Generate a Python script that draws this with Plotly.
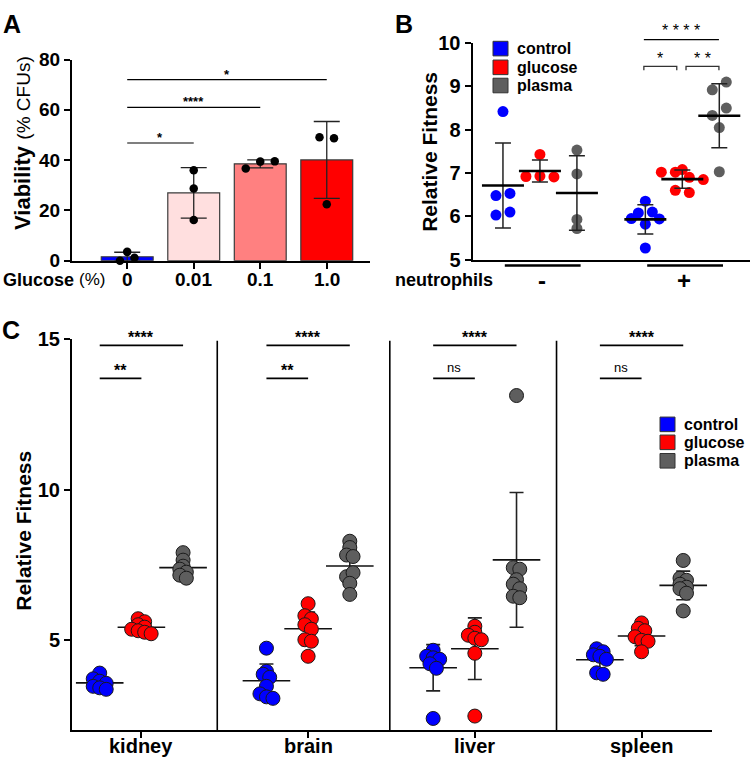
import plotly.graph_objects as go
import numpy as np

W, H = 750, 771
FONT = "Liberation Sans, Arial, sans-serif"

# ---------------- Panel A data ----------------
glucose_labels = ["0", "0.01", "0.1", "1.0"]
viability_0 = [3.5, 0.0, 1.2]
viability_001 = [36.0, 28.7, 16.2]
viability_01 = [36.7, 39.4, 39.5]
viability_1 = [49.1, 48.7, 22.4]
a_bar_colors = ["#0000FF", "#FFDFDF", "#FF8080", "#FF0000"]
a_sig_pairs = [(0, 1), (0, 2), (0, 3)]
a_sig_labels = ["*", "****", "*"]
a_sig_heights = [46.8, 61.0, 72.0]

# ---------------- Panel B data ----------------
b_conditions = ["control", "glucose", "plasma"]
b_control_minus = [8.42, 6.48, 6.53, 6.03, 6.10]
b_glucose_minus = [7.43, 6.92, 6.93, 6.91]
b_plasma_minus = [7.53, 6.98, 5.72, 5.93]
b_control_plus = [6.35, 6.08, 6.10, 5.95, 5.82, 5.94, 5.27]
b_glucose_plus = [7.08, 7.02, 7.02, 6.90, 6.85, 6.60, 6.55]
b_plasma_plus = [8.92, 9.10, 8.33, 8.50, 8.05, 7.03]
neutrophil_labels = ["-", "+"]
b_sig_labels = ["*", "* *", "* * * *"]

# ---------------- Panel C data ----------------
organs = ["kidney", "brain", "liver", "spleen"]
kidney_control = [3.89, 3.70, 3.62, 3.55, 3.45, 3.40, 3.35]
kidney_glucose = [5.70, 5.60, 5.50, 5.42, 5.35, 5.30, 5.25, 5.20]
kidney_plasma = [7.90, 7.65, 7.45, 7.35, 7.25, 7.15, 7.05]
brain_control = [4.72, 3.95, 3.85, 3.75, 3.45, 3.20, 3.10, 3.05]
brain_glucose = [6.20, 5.80, 5.70, 5.50, 5.35, 5.00, 4.95, 4.45]
brain_plasma = [8.28, 8.07, 7.82, 7.77, 7.10, 7.23, 6.88, 6.51]
liver_control = [4.65, 4.45, 4.40, 4.35, 4.20, 4.05, 2.38]
liver_glucose = [5.45, 5.25, 5.15, 5.05, 5.00, 4.55, 2.46]
liver_plasma = [13.13, 7.40, 7.35, 7.00, 6.85, 6.70, 6.45, 6.40]
spleen_control = [4.70, 4.60, 4.50, 4.45, 4.35, 3.90, 3.85]
spleen_glucose = [5.56, 5.38, 5.30, 5.10, 4.98, 4.95, 4.60]
spleen_plasma = [7.64, 7.05, 6.98, 6.85, 6.75, 6.70, 6.55, 5.96]
c_sig_top = ["****", "****", "****", "****"]
c_sig_low = ["**", "**", "ns", "ns"]

COND_COLORS = {"control": "#0000FF", "glucose": "#FF0000", "plasma": "#5E5E5E"}

# ---------------- geometry (pixel boxes of the three plot areas) ----------------
A_BOX = dict(x0=72, x1=370, y0=50, y1=257, xr=[-0.83, 3.65], yr=[0, 80])
B_BOX = dict(x0=473, x1=750, y0=33, y1=256, xr=[-0.81, 6.68], yr=[5, 10])
C_BOX = dict(x0=72, x1=712, y0=338, y1=740, xr=[-0.665, 14.69], yr=[2, 15])


def px(x):
    return x / W


def py(y):
    return 1 - y / H


def ppu(box):
    return ((box["x1"] - box["x0"]) / (box["xr"][1] - box["xr"][0]),
            (box["y1"] - box["y0"]) / (box["yr"][1] - box["yr"][0]))


def swarm(values, center, box, row_px, spacing_px):
    ppx, ppy = ppu(box)
    order = sorted(range(len(values)), key=lambda i: values[i])
    rows, cur = [], []
    for i in order:
        if cur and (values[i] - values[cur[0]]) * ppy >= row_px:
            rows.append(cur)
            cur = []
        cur.append(i)
    if cur:
        rows.append(cur)
    xs = [center] * len(values)
    for row in rows:
        row = sorted(row)
        n = len(row)
        for k, i in enumerate(row):
            xs[i] = center + (k - (n - 1) / 2) * spacing_px / ppx
    return xs


fig = go.Figure()

# ================= Panel A =================
a_sets = [viability_0, viability_001, viability_01, viability_1]
a_means = [float(np.mean(v)) for v in a_sets]
a_sds = [float(np.std(v, ddof=1)) for v in a_sets]
a_pos = list(range(len(glucose_labels)))
fig.add_trace(go.Bar(
    x=a_pos, y=a_means, width=0.78, xaxis="x", yaxis="y",
    marker=dict(color=a_bar_colors, line=dict(color="#3a3a3a", width=1.2)),
    error_y=dict(type="data", array=a_sds, color="#222222", thickness=1.3, width=13),
))
ax_pts, ay_pts = [], []
for i, vals in enumerate(a_sets):
    ax_pts += swarm(vals, a_pos[i], A_BOX, 8, 14.5)
    ay_pts += vals
fig.add_trace(go.Scatter(
    x=ax_pts, y=ay_pts, mode="markers", xaxis="x", yaxis="y", cliponaxis=False,
    marker=dict(color="black", size=8.5, line=dict(width=0)),
))

shapes = []
annotations = []
for (i, j), lab, h in zip(a_sig_pairs, a_sig_labels, a_sig_heights):
    shapes.append(dict(type="line", xref="x", yref="y", x0=a_pos[i], x1=a_pos[j], y0=h, y1=h,
                       line=dict(color="black", width=1.2)))
    annotations.append(dict(xref="x", yref="y", x=(a_pos[i] + a_pos[j]) / 2, y=h, text=lab,
                            showarrow=False, yanchor="bottom", yshift=-4,
                            font=dict(size=13, family=FONT, color="black", weight="bold")))
# x tick labels for panel A
for p, lab in zip(a_pos, glucose_labels):
    annotations.append(dict(xref="x", yref="paper", x=p, y=py(276), text=lab, showarrow=False,
                            xanchor="center", yanchor="middle",
                            font=dict(size=19, family=FONT, color="black", weight="bold")))

# ================= Panel B =================
b_group_x = [0.0, 3.85]
b_sets = [[b_control_minus, b_glucose_minus, b_plasma_minus],
          [b_control_plus, b_glucose_plus, b_plasma_plus]]
b_stat_x, b_stat_m, b_stat_sd = [], [], []
for g, group in enumerate(b_sets):
    for c, vals in enumerate(group):
        xc = b_group_x[g] + c
        xs = swarm(vals, xc, B_BOX, 9, 14)
        fig.add_trace(go.Scatter(
            x=xs, y=vals, mode="markers", xaxis="x2", yaxis="y2", cliponaxis=False,
            marker=dict(color=COND_COLORS[b_conditions[c]], size=11, line=dict(width=0)),
        ))
        b_stat_x.append(xc)
        b_stat_m.append(float(np.mean(vals)))
        b_stat_sd.append(float(np.std(vals, ddof=1)))
fig.add_trace(go.Scatter(
    x=b_stat_x, y=b_stat_m, mode="markers", xaxis="x2", yaxis="y2", cliponaxis=False,
    marker=dict(symbol="line-ew", size=30, line=dict(color="black", width=2.6)),
    error_y=dict(type="data", array=b_stat_sd, color="#222222", thickness=1.5, width=8),
))

# brackets (+ group)
gx = b_group_x[1]
br_y, br_tick = 9.46, 0.09
brackets = [(gx - 0.04, gx + 0.85), (gx + 1.1, gx + 1.99)]
for (x1, x2), lab in zip(brackets, b_sig_labels[:2]):
    shapes.append(dict(type="path", xref="x2", yref="y2",
                       path=f"M {x1},{br_y - br_tick} L {x1},{br_y} L {x2},{br_y} L {x2},{br_y - br_tick}",
                       line=dict(color="#333333", width=1.3)))
    annotations.append(dict(xref="x2", yref="y2", x=(x1 + x2) / 2, y=br_y, text=lab, showarrow=False,
                            yanchor="bottom", yshift=-3,
                            font=dict(size=16, family=FONT, color="black")))
top_frac = 1.016
shapes.append(dict(type="line", xref="x2", yref="y2 domain", x0=gx - 0.04, x1=gx + 1.99,
                   y0=top_frac, y1=top_frac, line=dict(color="black", width=1.3)))
annotations.append(dict(xref="x2", yref="y2 domain", x=gx + 0.975, y=top_frac, text=b_sig_labels[2],
                        showarrow=False, yanchor="bottom", yshift=-1,
                        font=dict(size=16, family=FONT, color="black")))
# neutrophil underlines and labels
for g, lab in enumerate(neutrophil_labels):
    shapes.append(dict(type="line", xref="x2", yref="y2 domain", x0=b_group_x[g] + 0.05,
                       x1=b_group_x[g] + 2.1, y0=-0.027, y1=-0.027,
                       line=dict(color="black", width=2.5)))
    annotations.append(dict(xref="x2", yref="y2 domain", x=b_group_x[g] + 1.05, y=-0.094, text=lab,
                            showarrow=False, yanchor="middle",
                            font=dict(size=24, family=FONT, color="black", weight="bold")))
annotations.append(dict(xref="paper", yref="paper", x=px(444), y=py(277), text="neutrophils",
                        showarrow=False, xanchor="center", yanchor="middle",
                        font=dict(size=18, family=FONT, color="black", weight="bold")))

# ================= Panel C =================
c_sets = [[kidney_control, kidney_glucose, kidney_plasma],
          [brain_control, brain_glucose, brain_plasma],
          [liver_control, liver_glucose, liver_plasma],
          [spleen_control, spleen_glucose, spleen_plasma]]
c_stat_x, c_stat_m, c_stat_sd = [], [], []
c_pts = {c: ([], []) for c in b_conditions}
for g, group in enumerate(c_sets):
    for c, vals in enumerate(group):
        xc = 4 * g + c
        xs = swarm(vals, xc, C_BOX, 5, 6.5)
        c_pts[b_conditions[c]][0].extend(xs)
        c_pts[b_conditions[c]][1].extend(vals)
        c_stat_x.append(xc)
        c_stat_m.append(float(np.mean(vals)))
        c_stat_sd.append(float(np.std(vals, ddof=1)))
fig.add_trace(go.Scatter(
    x=c_stat_x, y=c_stat_m, mode="markers", xaxis="x3", yaxis="y3", cliponaxis=False,
    marker=dict(symbol="line-ew", size=34, line=dict(color="#111111", width=1.6)),
    error_y=dict(type="data", array=c_stat_sd, color="#222222", thickness=1.6, width=7),
))
for c in b_conditions:
    fig.add_trace(go.Scatter(
        x=c_pts[c][0], y=c_pts[c][1], mode="markers", xaxis="x3", yaxis="y3", cliponaxis=False,
        marker=dict(color=COND_COLORS[c], size=14, line=dict(color="#1a1a1a", width=1)),
    ))

for g in range(len(organs)):
    base = 4 * g
    for (x1, x2, yv, lab) in [(base, base + 2, 14.8, c_sig_top[g]), (base, base + 1, 13.7, c_sig_low[g])]:
        is_ns = lab == "ns"
        shapes.append(dict(type="line", xref="x3", yref="y3", x0=x1, x1=x2, y0=yv, y1=yv,
                           line=dict(color="black", width=1.6)))
        annotations.append(dict(xref="x3", yref="y3", x=(x1 + x2) / 2, y=yv, text=lab,
                                showarrow=False, yanchor="bottom", yshift=1 if is_ns else -3,
                                font=dict(size=13 if is_ns else 16, family=FONT, color="black",
                                          weight="normal" if is_ns else "bold")))
    # category label
    annotations.append(dict(xref="x3", yref="paper", x=base + 1, y=py(757), text=organs[g],
                            showarrow=False, xanchor="center", yanchor="middle",
                            font=dict(size=20, family=FONT, color="black", weight="bold")))
for xd in [2.82, 6.96, 10.96]:
    shapes.append(dict(type="line", xref="x3", yref="y3", x0=xd, x1=xd, y0=C_BOX["yr"][0], y1=14.95,
                       line=dict(color="black", width=1.6)))


# ================= Legends =================
def legend(x_sq, y_rows, x_text):
    for c, yr in zip(b_conditions, y_rows):
        shapes.append(dict(type="rect", xref="paper", yref="paper",
                           x0=px(x_sq - 7.5), x1=px(x_sq + 7.5), y0=py(yr + 7.5), y1=py(yr - 7.5),
                           fillcolor=COND_COLORS[c], line=dict(color="#333333", width=1)))
        annotations.append(dict(xref="paper", yref="paper", x=px(x_text), y=py(yr), text=c,
                                showarrow=False, xanchor="left", yanchor="middle",
                                font=dict(size=16, family=FONT, color="black", weight="bold")))


legend(500.5, [38.7, 58, 76.7], 515)
legend(667.5, [425.5, 444, 463], 682)

# ================= Titles / panel letters =================
annotations += [
    dict(xref="paper", yref="paper", x=px(12), y=py(13), text="<b>A</b>", showarrow=False,
         xanchor="center", yanchor="middle", font=dict(size=25, family=FONT, color="black")),
    dict(xref="paper", yref="paper", x=px(404), y=py(13), text="<b>B</b>", showarrow=False,
         xanchor="center", yanchor="middle", font=dict(size=25, family=FONT, color="black")),
    dict(xref="paper", yref="paper", x=px(11), y=py(328), text="<b>C</b>", showarrow=False,
         xanchor="center", yanchor="middle", font=dict(size=25, family=FONT, color="black")),
    # "Viability (% CFUs)" as two pieces (bold word + regular unit)
    dict(xref="paper", yref="paper", x=px(23), y=py(228), textangle=-90, showarrow=False,
         text="<b>Viability</b>", xanchor="center", yanchor="bottom",
         font=dict(size=22, family=FONT, color="black")),
    dict(xref="paper", yref="paper", x=px(24), y=py(135), textangle=-90, showarrow=False,
         text="(% CFUs)", xanchor="center", yanchor="bottom",
         font=dict(size=19, family=FONT, color="black")),
    # "Glucose (%)"
    dict(xref="paper", yref="paper", x=px(1), y=py(277), showarrow=False,
         text="<b>Glucose</b>", xanchor="left", yanchor="middle",
         font=dict(size=18, family=FONT, color="black")),
    dict(xref="paper", yref="paper", x=px(77), y=py(276), showarrow=False,
         text="(%)", xanchor="left", yanchor="middle",
         font=dict(size=17, family=FONT, color="black")),
    dict(xref="paper", yref="paper", x=px(430), y=py(145), textangle=-90, showarrow=False,
         text="<b>Relative Fitness</b>", xanchor="center", yanchor="middle",
         font=dict(size=21, family=FONT, color="black")),
    dict(xref="paper", yref="paper", x=px(24), y=py(535), textangle=-90, showarrow=False,
         text="<b>Relative Fitness</b>", xanchor="center", yanchor="middle",
         font=dict(size=21, family=FONT, color="black")),
]

axis_common = dict(showline=True, linecolor="black", showgrid=False, zeroline=False,
                   ticks="outside", tickcolor="black", tickwidth=2, ticklen=6)


def dom_x(box):
    return [px(box["x0"]), px(box["x1"])]


def dom_y(box):
    return [py(box["y1"]), py(box["y0"])]


fig.update_layout(
    width=W, height=H, margin=dict(l=0, r=0, t=0, b=0),
    paper_bgcolor="white", plot_bgcolor="white", showlegend=False,
    font=dict(family=FONT, color="black"),
    bargap=0,
    xaxis=dict(**axis_common, linewidth=2, domain=dom_x(A_BOX), range=A_BOX["xr"], anchor="y",
               tickvals=a_pos, showticklabels=False),
    yaxis=dict(**axis_common, linewidth=2, domain=dom_y(A_BOX), range=A_BOX["yr"], anchor="x",
               tickvals=[0, 20, 40, 60, 80],
               tickfont=dict(size=19, family=FONT, color="black", weight="bold")),
    xaxis2=dict(showline=True, linecolor="black", linewidth=2.5, showgrid=False, zeroline=False,
                showticklabels=False, ticks="", domain=dom_x(B_BOX), range=B_BOX["xr"], anchor="y2"),
    yaxis2=dict(**axis_common, linewidth=2.5, domain=dom_y(B_BOX), range=B_BOX["yr"], anchor="x2",
                tickvals=[5, 6, 7, 8, 9, 10],
                tickfont=dict(size=20, family=FONT, color="black", weight="bold")),
    xaxis3=dict(**axis_common, linewidth=2, domain=dom_x(C_BOX), range=C_BOX["xr"], anchor="y3",
                tickvals=[4 * g + 1 for g in range(len(organs))], showticklabels=False),
    yaxis3=dict(**axis_common, linewidth=2, domain=dom_y(C_BOX), range=C_BOX["yr"], anchor="x3",
                tickvals=[5, 10, 15],
                tickfont=dict(size=20, family=FONT, color="black", weight="bold")),
    shapes=shapes,
    annotations=annotations,
)

fig.write_html("out.html", config={"displayModeBar": False, "staticPlot": True},
               post_script="document.body.style.margin='0';document.body.style.padding='0';")
